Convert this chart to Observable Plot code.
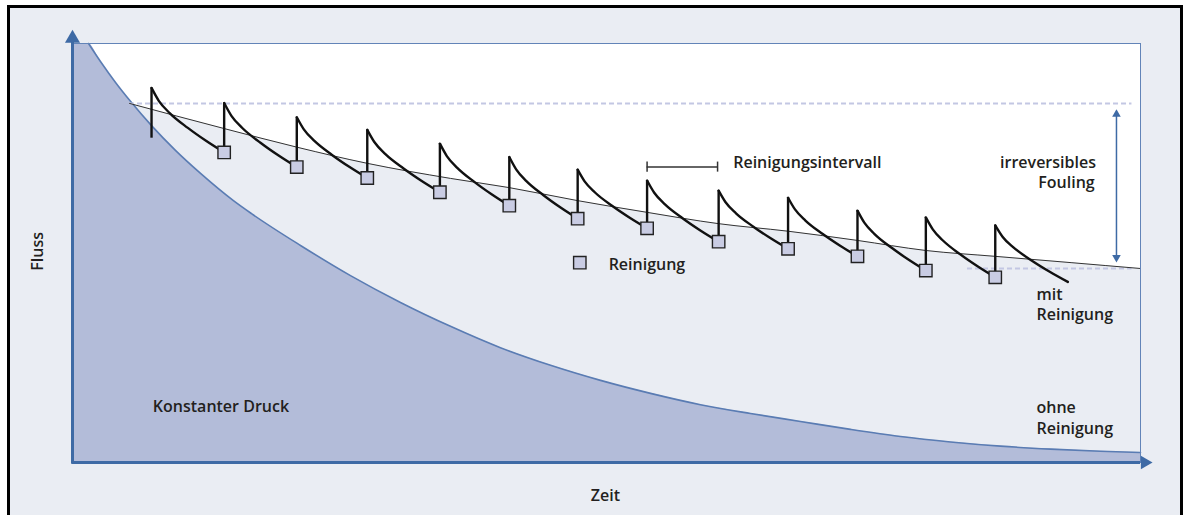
<!DOCTYPE html>
<html><head><meta charset="utf-8">
<script src="https://cdn.jsdelivr.net/npm/d3@7"></script>
<script src="https://cdn.jsdelivr.net/npm/@observablehq/plot@0.6"></script>
<style>
html,body{margin:0;padding:0;background:#fff;width:1184px;height:515px;overflow:hidden;}
#frame{position:absolute;left:7px;top:5px;width:1170px;height:520px;border:3px solid #000;border-bottom:none;background:#eaedf3;}
#chart{position:absolute;left:0;top:0;}
</style></head><body>
<div id="frame"></div><div id="chart"></div>
<script>
// ---- data (Zeit 0..100, Fluss 0..100) ----
// sawtooth with cleaning ("mit Reinigung")
const peakTime  = [7.4, 14.2, 21.0, 27.6, 34.4, 40.9, 47.3, 53.8, 60.5, 67.0, 73.5, 79.9, 86.4];
const peakFlux  = [89.4, 85.8, 82.4, 79.4, 76.1, 72.9, 69.9, 67.3, 64.9, 63.2, 60.1, 58.5, 56.6];
const startFlux = 77.4;
const cleanFlux = [74.0, 70.5, 67.9, 64.5, 61.3, 58.2, 55.9, 52.7, 51.0, 49.2, 45.8, 44.2]; // at peakTime[1..]
const endTime = 93.2, endFlux = 43.1;
// decline shape of one filtration cycle (fraction of cycle time, fraction of drop)
const cycleTimeFrac = [0, 0.1, 0.25, 0.5, 0.75, 1];
const cycleDropFrac = [0, 0.2, 0.39, 0.62, 0.82, 1];
// irreversible fouling trend
const trendTime = [5.34, 14.2, 21.1, 27.6, 35.4, 40.9, 47.3, 53.8, 60.5, 67.0, 73.5, 79.9, 86.4, 93.5, 100];
const trendFlux = [85.7, 79.7, 75.2, 71.4, 67.8, 65.6, 62.5, 59.7, 57.0, 55.2, 53.0, 50.6, 49.2, 47.7, 46.3];
// without cleaning ("ohne Reinigung")
const noCleanTime = [0, 1.5, 2.62, 4.03, 5.43, 7.40, 9.64, 11.99, 15.07, 16.76, 21.35, 26.03, 30.71, 35.39, 40.07, 44.76, 49.44, 54.12, 58.80, 63.48, 68.16, 72.85, 77.53, 82.21, 86.89, 91.57, 96.25, 100];
const noCleanFlux = [100, 100, 95.7, 90.7, 86.2, 80.4, 74.5, 69.0, 62.5, 59.4, 51.8, 44.6, 38.2, 32.5, 27.4, 23.2, 19.6, 16.5, 13.8, 11.7, 9.8, 7.9, 6.2, 4.9, 3.9, 3.2, 2.7, 2.4];
// reference levels
const topLevel = 85.7, bottomLevel = 46.3;
const intervalStart = 53.8, intervalEnd = 60.4, intervalLevel = 70.5;
// texts
const yLabel = "Fluss", xLabel = "Zeit";
const labels = {
  druck: "Konstanter Druck",
  ohne: "ohne\nReinigung",
  mit: "mit\nReinigung",
  irr1: "irreversibles",
  irr2: "Fouling",
  intervall: "Reinigungsintervall",
  legend: "Reinigung"
};

// ---- derived tables ----
const segs = [];
for (let i = 0; i < peakTime.length; i++) {
  const t0 = peakTime[i], f0 = peakFlux[i];
  const t1 = i + 1 < peakTime.length ? peakTime[i + 1] : endTime;
  const f1 = i + 1 < peakTime.length ? cleanFlux[i] : endFlux;
  cycleTimeFrac.forEach((u, k) => segs.push({seg: i, t: t0 + u * (t1 - t0), f: f0 - cycleDropFrac[k] * (f0 - f1)}));
}
const verticals = peakTime.map((t, i) => ({t, lo: i === 0 ? startFlux : cleanFlux[i - 1], hi: peakFlux[i]}));
const squares = cleanFlux.map((f, i) => ({t: peakTime[i + 1], f}));
const trend = trendTime.map((t, i) => ({t, f: trendFlux[i]}));
const noClean = noCleanTime.map((t, i) => ({t, f: noCleanFlux[i]}));

const font = {fontFamily: "'Open Sans', sans-serif", fontWeight: 600, fontSize: 16, fill: "#231f20"};
const blue = "#3e6aa5";

const chart = Plot.plot({
  width: 1184, height: 515,
  marginLeft: 72, marginRight: 44, marginTop: 43, marginBottom: 53,
  x: {domain: [0, 100], axis: null},
  y: {domain: [0, 100], axis: null},
  style: {background: "transparent", overflow: "visible"},
  marks: [
    Plot.frame({fill: "white", stroke: "none"}),
    Plot.areaY(trend, {x: "t", y: "f", fill: "#eaedf3", curve: "monotone-x"}),
    Plot.areaY(noClean, {x: "t", y: "f", fill: "#b3bcd9", curve: "monotone-x"}),
    Plot.line(noClean.slice(1), {x: "t", y: "f", stroke: "#5a7cb3", strokeWidth: 1.6, curve: "monotone-x"}),
    Plot.ruleY([topLevel], {x1: 5.34, x2: 99.2, stroke: "#c3c7e3", strokeWidth: 2, strokeDasharray: "5,3"}),
    Plot.ruleY([bottomLevel], {x1: 83.8, x2: 99.2, stroke: "#c3c7e3", strokeWidth: 2, strokeDasharray: "5,3"}),
    Plot.line(trend, {x: "t", y: "f", stroke: "#333", strokeWidth: 1, curve: "monotone-x"}),
    Plot.line(segs, {x: "t", y: "f", z: "seg", stroke: "#111", strokeWidth: 2.4, curve: "monotone-x"}),
    Plot.ruleX(verticals, {x: "t", y1: "lo", y2: "hi", stroke: "#111", strokeWidth: 2.4}),
    Plot.dot(squares, {x: "t", y: "f", symbol: "square", r: 7, fill: "#c9cce3", stroke: "#222", strokeWidth: 1.4}),
    // legend
    Plot.dot([{t: 47.5, f: 47.7}], {x: "t", y: "f", symbol: "square", r: 7, fill: "#c9cce3", stroke: "#222", strokeWidth: 1.4}),
    Plot.text([labels.legend], {x: 50.2, y: 46.0, text: d => d, textAnchor: "start", lineAnchor: "bottom", ...font}),
    // interval bar
    Plot.ruleY([intervalLevel], {x1: intervalStart, x2: intervalEnd, stroke: "#333", strokeWidth: 1.5}),
    Plot.ruleX([intervalStart, intervalEnd], {x: d => d, y1: intervalLevel - 1.2, y2: intervalLevel + 1.2, stroke: "#333", strokeWidth: 1.5}),
    Plot.text([labels.intervall], {x: 68.8, y: 70.4, text: d => d, textAnchor: "middle", lineAnchor: "bottom", ...font}),
    // irreversible fouling double arrow
    Plot.ruleX([97.75], {y1: bottomLevel + 2.5, y2: topLevel - 2.5, stroke: blue, strokeWidth: 1.5}),
    Plot.dot([{t: 97.75, f: topLevel - 2.6, a: 0}, {t: 97.75, f: bottomLevel + 2.6, a: 180}], {x: "t", y: "f", rotate: "a", symbol: "triangle", r: 3.2, fill: blue}),
    Plot.text([labels.irr1], {x: 91.34, y: 70.2, text: d => d, textAnchor: "middle", lineAnchor: "bottom", ...font}),
    Plot.text([labels.irr2], {x: 93.07, y: 65.4, text: d => d, textAnchor: "middle", lineAnchor: "bottom", ...font}),
    // other labels
    Plot.text([labels.mit], {x: 90.26, y: 33.9, text: d => d, textAnchor: "start", lineAnchor: "bottom", lineHeight: 1.3, ...font}),
    Plot.text([labels.ohne], {x: 90.26, y: 6.9, text: d => d, textAnchor: "start", lineAnchor: "bottom", lineHeight: 1.3, ...font}),
    Plot.text([labels.druck], {x: 13.9, y: 12.0, text: d => d, textAnchor: "middle", lineAnchor: "bottom", ...font}),
    // plot box
    Plot.frame({stroke: "#6284b8", strokeWidth: 1}),
    // axes with arrowheads
    Plot.ruleX([0], {y1: -0.4, y2: 100.6, stroke: blue, strokeWidth: 3}),
    Plot.ruleY([0], {x1: 0, x2: 100, stroke: blue, strokeWidth: 3}),
    Plot.dot([{t: 0, f: 101.2, a: 0}], {x: "t", y: "f", rotate: "a", symbol: "triangle", r: 5.6, fill: blue}),
    Plot.dot([{t: 100.4, f: 0, a: 90}], {x: "t", y: "f", rotate: "a", symbol: "triangle", r: 5.0, fill: blue}),
    Plot.text([yLabel], {x: -3.2, y: 50.4, text: d => d, rotate: -90, ...font}),
    Plot.text([xLabel], {x: 49.9, y: -9.3, text: d => d, lineAnchor: "bottom", ...font})
  ]
});
document.getElementById("chart").appendChild(chart);
</script></body></html>
